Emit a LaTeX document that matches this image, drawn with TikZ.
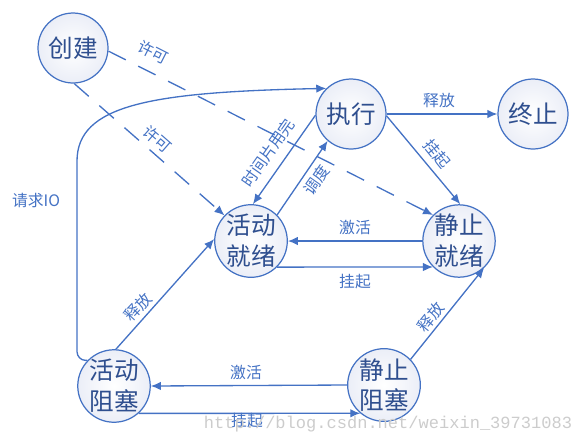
\documentclass[tikz,border=0pt]{standalone}
\usepackage{fontspec}
\setmainfont{Noto Sans CJK SC}
\newfontfamily\wmfont{Liberation Mono}
\usetikzlibrary{arrows.meta}
\definecolor{cln}{HTML}{4472C4}
\definecolor{ctx}{HTML}{2F4F8F}
\definecolor{cfl}{HTML}{EBEEF7}
\tikzset{
  st/.style={circle,draw=cln,line width=.7pt,minimum size=1.4cm,inner sep=0pt,
    inner color=white,outer color=cfl,text=ctx,align=center,
    font=\fontsize{14}{17.5}\selectfont},
  arr/.style={-{Latex[length=2mm,width=1.7mm]},draw=cln,line width=.75pt},
  arrd/.style={arr,dash pattern=on 11pt off 8pt},
  lb/.style={text=cln,inner sep=1pt,font=\fontsize{9}{10}\selectfont},
}

\begin{document}
\begin{tikzpicture}[x=0.02cm,y=-0.02cm]
\useasboundingbox (0,0) rectangle (585,444);
% states
\node[st] (cj) at (73,48) {创建};
\node[st] (zx) at (351,114) {执行};
\node[st] (zz) at (533,114) {终止};
\node[st] (hj) at (251,241) {活动\\就绪};
\node[st] (jj) at (459,241) {静止\\就绪};
\node[st] (hz) at (114,386) {活动\\阻塞};
\node[st] (jz) at (384,385) {静止\\阻塞};
% transitions
\draw[arrd] (cj.-5) -- (jj.135);
\draw[arrd] (cj.-88) -- (hj.136);
\draw[arr,rounded corners=5pt] (hz.136) -| (77,300) -- (77,170)
  .. controls (77,105) and (150,92) .. (zx.134);
\draw[arr] (zx.182) -- (hj.87);
\draw[arr] (hj.45) -- (zx.229);
\draw[arr] (zx.east) -- (zz.west);
\draw[arr] (zx.-3) -- (jj.88);
\draw[arr] (jj.west) -- (hj.east);
\draw[arr] (hj.-45) -- (jj.-135);
\draw[arr] (hz.87) -- (hj.177);
\draw[arr] (jz.44) -- (jj.-47);
\draw[arr] (jz.west) -- (hz.east);
\draw[arr] (hz.-48) -- (jz.-130);
% labels
\node[lb,rotate=-27] (l1) at (153,52) {许可};
\node[lb,rotate=-41] (l2) at (157,139) {许可};
\node[lb] (l3) at (36,200) {请求IO};
\node[lb,rotate=55] (l4) at (268,153) {时间片用完};
\node[lb,rotate=55] (l5) at (317,180) {调度};
\node[lb] (l6) at (439,100) {释放};
\node[lb,rotate=-51] (l7) at (437,154) {挂起};
\node[lb] (l8) at (355,227) {激活};
\node[lb] (l9) at (355,282) {挂起};
\node[lb,rotate=47] (l10) at (138,307) {释放};
\node[lb,rotate=51] (l11) at (431,317) {释放};
\node[lb] (l12) at (246,372) {激活};
\node[lb] (l13) at (247,421) {挂起};
\node[text=black!20,inner sep=0pt,font=\wmfont\fontsize{9.7}{10}\selectfont]
  (wm) at (388,424) {http://blog.csdn.net/weixin\_39731083};
\end{tikzpicture}
\end{document}
